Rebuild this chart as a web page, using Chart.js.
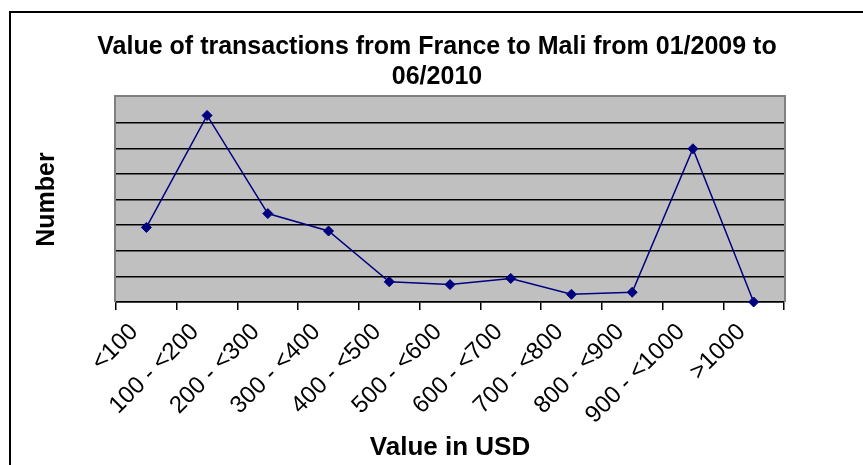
<!DOCTYPE html>
<html>
<head>
<meta charset="utf-8">
<script src="https://cdn.jsdelivr.net/npm/chart.js@4/dist/chart.umd.min.js"></script>
<style>
html,body{margin:0;padding:0;background:#fff;}
#wrap{width:863px;height:465px;position:relative;}
</style>
</head>
<body>
<div id="wrap"><canvas id="c" width="863" height="465"></canvas></div>
<script>
const categories = ["<100", "100 - <200", "200 - <300", "300 - <400", "400 - <500", "500 - <600", "600 - <700", "700 - <800", "800 - <900", "900 - <1000", ">1000"];
const seriesValues = [29.1, 72.8, 34.5, 27.7, 7.9, 6.8, 9.2, 3.0, 3.8, 59.8, 0];
const titleLines = ["Value of transactions from France to Mali from 01/2009 to", "06/2010"];
const yMax = 80;
const yStep = 10;

const FONT = "'Liberation Sans', Arial, Helvetica, sans-serif";

const framePlugin = {
  id: 'frame',
  beforeDraw(chart) {
    const ctx = chart.ctx;
    const a = chart.chartArea;
    ctx.save();
    ctx.fillStyle = '#fff';
    ctx.fillRect(0, 0, chart.width, chart.height);
    ctx.fillStyle = '#000';
    ctx.fillRect(9, 11, 2, chart.height - 11);
    ctx.fillRect(9, 11, chart.width - 9, 2);
    ctx.fillStyle = '#C0C0C0';
    ctx.fillRect(a.left, a.top, a.right - a.left, a.bottom - a.top);
    ctx.restore();
  },
  beforeDatasetsDraw(chart) {
    const ctx = chart.ctx;
    const a = chart.chartArea;
    ctx.save();
    ctx.strokeStyle = '#808080';
    ctx.lineWidth = 2;
    ctx.beginPath();
    ctx.moveTo(a.left - 1, a.bottom);
    ctx.lineTo(a.left - 1, a.top - 1);
    ctx.lineTo(a.right + 1, a.top - 1);
    ctx.lineTo(a.right + 1, a.bottom);
    ctx.stroke();
    ctx.restore();
  }
};

new Chart(document.getElementById('c'), {
  type: 'line',
  data: {
    labels: categories,
    datasets: [{
      data: seriesValues,
      borderColor: '#000080',
      backgroundColor: '#000080',
      borderWidth: 1.5,
      tension: 0,
      pointStyle: 'rectRot',
      pointRadius: 5,
      pointHoverRadius: 5,
      pointBackgroundColor: '#000080',
      pointBorderColor: '#000080',
      pointBorderWidth: 1,
      clip: false,
      yAxisID: 'y'
    }]
  },
  options: {
    responsive: false,
    animation: false,
    devicePixelRatio: 1,
    layout: { padding: { left: 11, right: 0, top: 0, bottom: 0 } },
    plugins: {
      legend: { display: false },
      tooltip: { enabled: false },
      title: {
        display: true,
        text: titleLines,
        color: '#000',
        font: { family: FONT, size: 25, weight: 'bold', lineHeight: 1.2 },
        padding: { top: 32, bottom: 5 }
      }
    },
    scales: {
      x: {
        type: 'category',
        offset: true,
        grid: {
          display: true,
          offset: true,
          drawOnChartArea: false,
          drawTicks: true,
          tickLength: 8,
          color: '#000',
          lineWidth: 1.5
        },
        border: { display: true, color: '#000', width: 1.5 },
        ticks: {
          color: '#000',
          font: { family: FONT, size: 24 },
          minRotation: 45,
          maxRotation: 45,
          autoSkip: false,
          padding: 8,
          labelOffset: -12
        },
        title: {
          display: true,
          text: 'Value in USD',
          color: '#000',
          font: { family: FONT, size: 26, weight: 'bold', lineHeight: 1.2 },
          padding: { top: 0, bottom: 1.5 }
        },
        afterFit(scale) { scale.height = 163; }
      },
      y: {
        position: 'left',
        min: 0,
        max: yMax,
        ticks: { display: false, stepSize: yStep },
        grid: {
          drawTicks: false,
          color: (c) => (c.tick && c.tick.value === yMax) ? 'rgba(0,0,0,0)' : '#000',
          lineWidth: 1.5
        },
        border: { display: false },
        title: {
          display: true,
          text: 'Number',
          color: '#000',
          font: { family: FONT, size: 25, weight: 'bold', lineHeight: 1.2 },
          padding: { top: 21, bottom: 0 }
        },
        afterFit(scale) { scale.width = 105; }
      },
      y2: {
        position: 'right',
        display: true,
        min: 0,
        max: yMax,
        ticks: { display: false },
        grid: { display: false },
        border: { display: false },
        afterFit(scale) { scale.width = 79; }
      }
    }
  },
  plugins: [framePlugin]
});
</script>
</body>
</html>
